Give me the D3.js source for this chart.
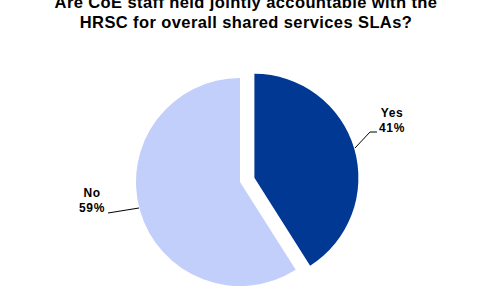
<!DOCTYPE html>
<html>
<head>
<meta charset="utf-8">
<script src="https://cdn.jsdelivr.net/npm/d3@7"></script>
<style>
  body { margin: 0; background: #fff; }
  text { font-family: "Liberation Sans", Arial, sans-serif; }
</style>
</head>
<body>
<div id="chart"></div>
<script>
// Data
const categories = ["Yes", "No"];
const values = [41, 59];
const labels = ["41%", "59%"];
const colors = ["#003893", "#c2cffb"];
const titleLines = ["Are CoE staff held jointly accountable with the", "HRSC for overall shared services SLAs?"];

const width = 495;
const height = 300;
const cx = 240, cy = 182;
const radius = 104;
const explode = 15;

const svg = d3.select("#chart")
    .append("svg")
    .attr("width", width)
    .attr("height", height);

// Title
svg.append("g")
    .selectAll("text")
    .data(titleLines)
    .join("text")
    .attr("x", 246)
    .attr("y", (d, i) => 8 + i * 20)
    .attr("text-anchor", "middle")
    .style("font-size", "16.5px")
    .style("font-weight", "bold")
    .style("letter-spacing", "0.4px")
    .text(d => d);

const data = categories.map((c, i) => ({ cat: c, value: values[i], label: labels[i], color: colors[i] }));

const pie = d3.pie()
    .value(d => d.value)
    .sort(null);

const arcs = pie(data);

const arc = d3.arc()
    .innerRadius(0)
    .outerRadius(radius);

const g = svg.append("g")
    .attr("transform", `translate(${cx}, ${cy})`);

// explode the "Yes" slice
const offset = d => {
    if (d.data.cat !== "Yes") return [0, 0];
    const a = (d.startAngle + d.endAngle) / 2;
    return [Math.sin(a) * explode, -Math.cos(a) * explode];
};

g.selectAll("path")
    .data(arcs)
    .join("path")
    .attr("fill", d => d.data.color)
    .attr("transform", d => `translate(${offset(d)})`)
    .attr("d", arc);

// Leader lines and labels
const labelPos = {
    Yes: { line: [[355 - cx, 148 - cy], [370 - cx, 132 - cy], [377 - cx, 132 - cy]], x: 392, y: 117 },
    No: { line: [[139 - cx, 208 - cy], [108 - cx, 213 - cy]], x: 92, y: 197 }
};

g.selectAll("polyline")
    .data(arcs)
    .join("polyline")
    .attr("points", d => labelPos[d.data.cat].line.map(p => p.join(",")).join(" "))
    .attr("fill", "none")
    .attr("stroke", "#000")
    .attr("stroke-width", 1);

const lbl = svg.append("g")
    .selectAll("text")
    .data(arcs)
    .join("text")
    .attr("text-anchor", "middle")
    .style("font-size", "12px")
    .style("font-weight", "bold")
    .style("letter-spacing", "0.6px");

lbl.append("tspan")
    .attr("x", d => labelPos[d.data.cat].x)
    .attr("y", d => labelPos[d.data.cat].y)
    .text(d => d.data.cat);

lbl.append("tspan")
    .attr("x", d => labelPos[d.data.cat].x)
    .attr("y", d => labelPos[d.data.cat].y + 15)
    .text(d => d.data.label);
</script>
</body>
</html>
